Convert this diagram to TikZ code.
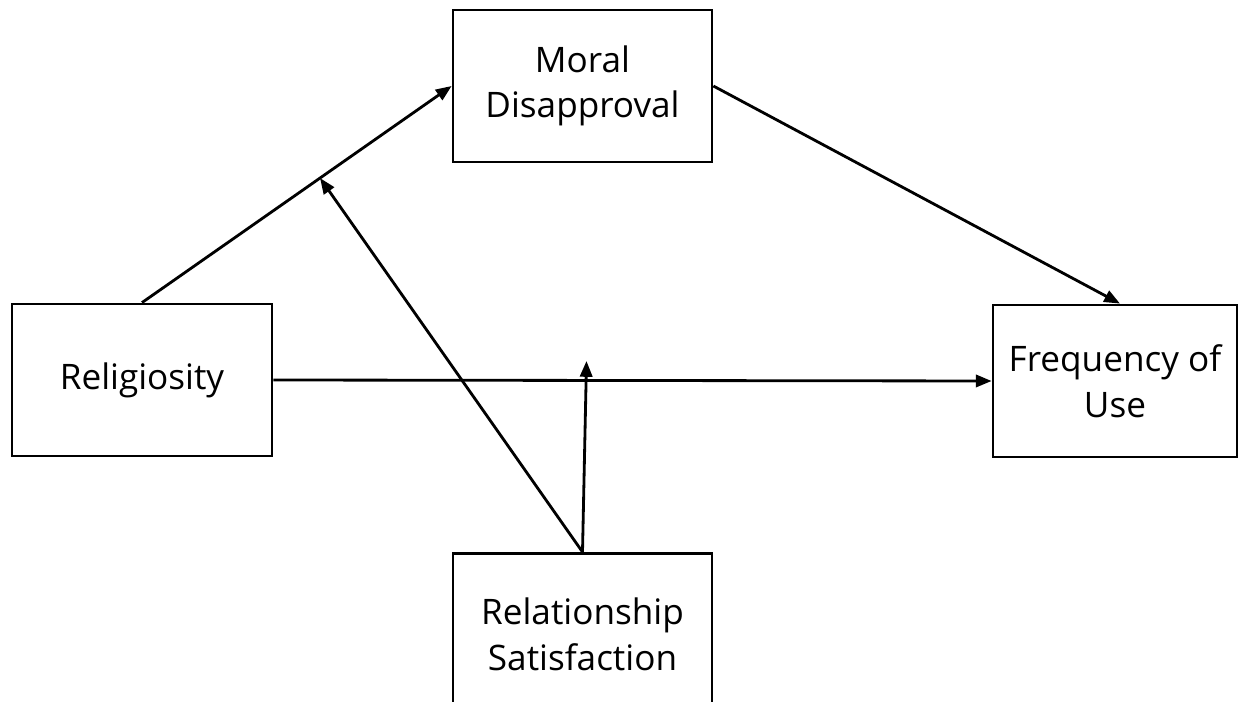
\documentclass[tikz,border=0pt]{standalone}
\usepackage{fontspec}
\setmainfont{Open Sans}
\usetikzlibrary{arrows.meta,calc}

\begin{document}
\begin{tikzpicture}[x=0.02cm,y=-0.02cm,line width=1.6pt,
    >={Triangle[length=9pt,width=7pt]}]
    \tikzstyle{var}=[draw,rectangle,align=center,font=\fontsize{20}{26}\selectfont,inner sep=0pt]
    \useasboundingbox (0,0) rectangle (1249,702);

    \node[var,minimum width=5.18cm,minimum height=3.04cm] (mor) at (582.5,86) {Moral\\Disapproval};
    \node[var,minimum width=5.2cm,minimum height=3.04cm] (rel) at (142,380) {Religiosity};
    \node[var,minimum width=4.88cm,minimum height=3.04cm] (fre) at (1115,381) {Frequency of\\Use};
    \node[var,minimum width=5.18cm,minimum height=4cm,anchor=north] (sat) at (582.5,552) {};
    \node[align=center,font=\fontsize{20}{26}\selectfont] (satl) at (582.5,634) {Relationship\\Satisfaction};

    \coordinate (m1) at ($(rel.north)!0.575!(mor.west)$);
    \coordinate (m2) at ($(sat.north)+(4,-191)$);

    \path[->] (rel.north) edge (mor.west)
              (mor.east)  edge ($(fre.north)+(5,0)$)
              (rel.east)  edge (fre.west)
              (sat.north) edge (m1)
                          edge (m2);
\end{tikzpicture}
\end{document}
